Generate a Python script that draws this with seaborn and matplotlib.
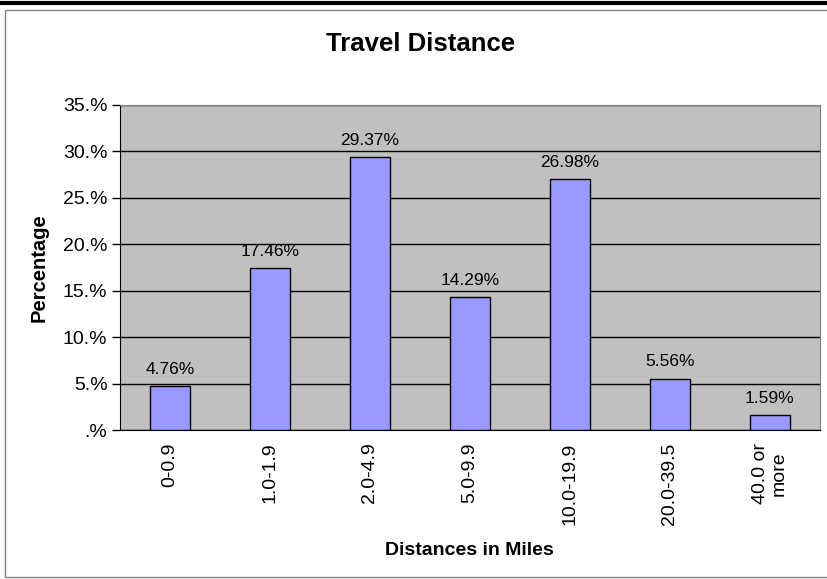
import matplotlib.pyplot as plt
import matplotlib.patches as mpatches
import numpy as np
import pandas as pd
import seaborn as sns

categories = ["0-0.9", "1.0-1.9", "2.0-4.9", "5.0-9.9", "10.0-19.9", "20.0-39.5", "40.0 or\nmore"]
percent = [4.76, 17.46, 29.37, 14.29, 26.98, 5.56, 1.59]
ytick_vals = [0, 5, 10, 15, 20, 25, 30, 35]
ytick_labels = [".%", "5.%", "10.%", "15.%", "20.%", "25.%", "30.%", "35.%"]

df = pd.DataFrame({"dist": categories, "pct": percent})

sns.set_style("white")
plt.rcParams["font.family"] = ["Liberation Sans", "DejaVu Sans"]
plt.rcParams["text.color"] = "black"
plt.rcParams["axes.labelcolor"] = "black"
plt.rcParams["xtick.color"] = "black"
plt.rcParams["ytick.color"] = "black"

fig = plt.figure(figsize=(8.27, 5.79), dpi=100)
ax = fig.add_axes([0.145, 0.257, 0.846, 0.562])

# outer chart frame and top rule
fig.patches.append(mpatches.Rectangle((0.006, 0.004), 1.2, 0.978, transform=fig.transFigure,
                                      fill=False, edgecolor="#808080", linewidth=1.0))
fig.lines.append(plt.Line2D([0, 1], [0.995, 0.995], transform=fig.transFigure, color="black", linewidth=3))

ax.set_facecolor("#C0C0C0")
sns.barplot(data=df, x="dist", y="pct", color="#9999FF", edgecolor="black", linewidth=1,
            width=0.4, saturation=1, ax=ax, zorder=3)

ax.set_ylim(0, 35)
ax.set_xlim(-0.5, len(categories) - 0.5)
ax.set_yticks(ytick_vals)
ax.set_yticklabels(ytick_labels, fontsize=14)
ax.yaxis.grid(True, color="black", linewidth=1, zorder=0)
ax.set_axisbelow(True)

ax.set_xticks(np.arange(len(categories)))
ax.set_xticklabels(categories, rotation=90, fontsize=14, va="top", ha="center", linespacing=1.15)
ax.tick_params(axis="x", length=0, pad=9)
ax.set_xticks(np.arange(len(categories) + 1) - 0.5, minor=True)
ax.tick_params(axis="x", which="minor", length=6, color="black", width=1, direction="out")
ax.tick_params(axis="y", length=6, color="black", width=1, direction="out", left=True, pad=3)

for s in ["top", "right"]:
    ax.spines[s].set_color("#808080")
for s in ["left", "bottom"]:
    ax.spines[s].set_color("black")

for i, v in enumerate(percent):
    ax.text(i, v + 1.0, f"{v:.2f}%", ha="center", va="bottom", fontsize=12.5)

ax.set_xlabel("Distances in Miles", fontsize=14, fontweight="bold", labelpad=12)
ax.set_ylabel("Percentage", fontsize=14.5, fontweight="bold", labelpad=10)
fig.text(0.508, 0.924, "Travel Distance", ha="center", va="center", fontsize=18.5, fontweight="bold")

fig.savefig("out.png", dpi=100)
